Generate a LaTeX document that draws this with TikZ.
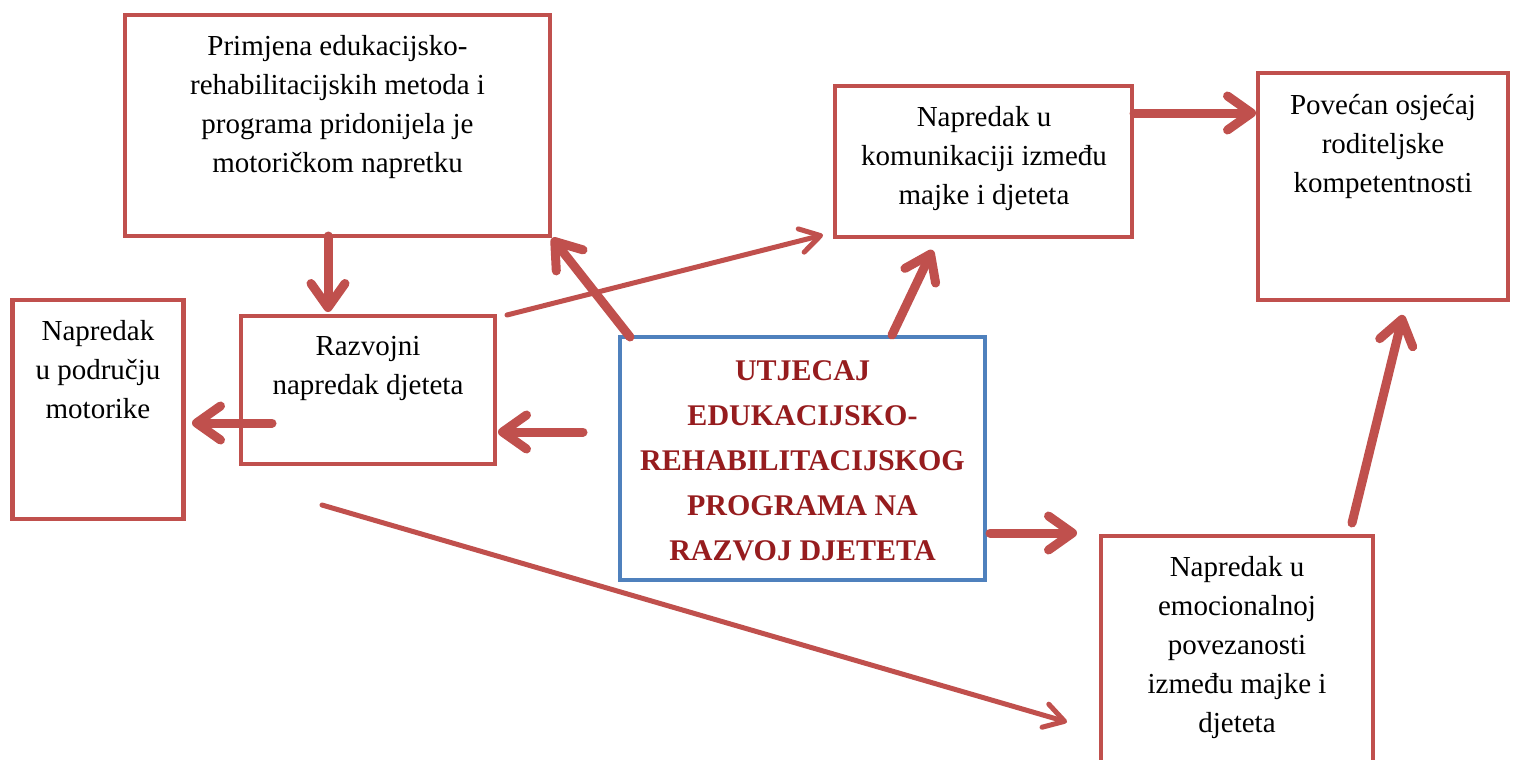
\documentclass[tikz,border=0pt]{standalone}
\usepackage{fontspec}
\setmainfont{Liberation Serif}
\usetikzlibrary{arrows.meta,calc}
\definecolor{boxred}{HTML}{C0504D}
\definecolor{boxblue}{HTML}{4F81BD}
\definecolor{titlered}{RGB}{150,28,30}
\newcommand{\firstline}{\rule{0pt}{12pt}}
\begin{document}
\begin{tikzpicture}[x=0.5pt,y=-0.5pt,
  box/.style={draw=boxred, fill=white, line width=2.25pt, outer sep=0pt, inner sep=0pt},
  bluebox/.style={draw=boxblue, fill=white, line width=2.25pt, outer sep=0pt, inner sep=0pt},
  txt/.style={align=center, font=\fontsize{14.5}{19.5}\selectfont, inner sep=0pt, anchor=north},
  titletxt/.style={align=center, font=\fontsize{15}{22.5}\selectfont\bfseries, text=titlered, inner sep=0pt, anchor=north},
  thickarrow/.style={draw=boxred, line width=4.5pt, line cap=round, -{Straight Barb[length=12pt,width=17pt,round]}},
  thinarrow/.style={draw=boxred, line width=2.5pt, line cap=round, -{Straight Barb[length=10pt,width=12pt,round]}}]

\path[use as bounding box, fill=white] (0,0) rectangle (1515,760);
\clip (0,0) rectangle (1515,760);

% boxes
\node[box, minimum width=212.5pt, minimum height=110.5pt] (A) at (337.5,125.5) {};
\node[box, minimum width=148.5pt, minimum height=75.5pt] (B) at (983.5,161.5) {};
\node[box, minimum width=125pt, minimum height=113.5pt] (C) at (1383,186.5) {};
\node[box, minimum width=85.5pt, minimum height=109.5pt] (D) at (98,409.5) {};
\node[box, minimum width=127pt, minimum height=74pt] (E) at (368,390) {};
\node[bluebox, minimum width=182.5pt, minimum height=121.5pt] (F) at (802.5,458.5) {};
\node[box, minimum width=136pt, minimum height=127pt] (G) at (1237,663) {};

% texts
\node[txt] (At) at (337.5,31) {\firstline Primjena edukacijsko-\\rehabilitacijskih metoda i\\programa pridonijela je\\motoričkom napretku};
\node[txt] (Bt) at (984,102) {\firstline Napredak u\\komunikaciji između\\majke i djeteta};
\node[txt] (Ct) at (1383,90) {\firstline Povećan osjećaj\\roditeljske\\kompetentnosti};
\node[txt] (Dt) at (98,316) {\firstline Napredak\\u području\\motorike};
\node[txt] (Et) at (368,331) {\firstline Razvojni\\napredak djeteta};
\node[txt] (Gt) at (1237,552) {\firstline Napredak u\\emocionalnoj\\povezanosti\\između majke i\\djeteta};
\node[titletxt] (Ft) at (802.5,356) {\firstline UTJECAJ\\EDUKACIJSKO-\\REHABILITACIJSKOG\\PROGRAMA NA\\RAZVOJ DJETETA};

% connectors
\draw[thickarrow] ($(A.south)+(-9.5,0)$) -- ($(E.north)+(-40,-4)$);
\draw[thickarrow] ($(E.west)+(31,33)$) -- ($(D.east)+(8.5,13.5)$);
\draw[thickarrow] ($(F.west)+(-37,-26.5)$) -- ($(E.east)+(3,42)$);
\draw[thinarrow] ($(E.north east)+(12,-1)$) -- ($(B.south west)+(-12,-2)$);
\draw[thickarrow] ($(F.north west)+(10,0)$) -- ($(A.south east)+(2,2)$);
\draw[thickarrow] ($(F.north)+(89.5,-2)$) -- ($(B.south)+(-51,13)$);
\draw[thickarrow] ($(B.east)+(2,-48.5)$) -- ($(C.west)+(-2,-73.5)$);
\draw[thickarrow] ($(F.east)+(5,74.5)$) -- ($(G.north west)+(-24,-3)$);
\draw[thickarrow] ($(G.north)+(115,-13)$) -- ($(C.south)+(20,15)$);
\draw[thinarrow] ($(E.south)+(-46,41)$) -- ($(G.north west)+(-34,186)$);
\end{tikzpicture}
\end{document}
